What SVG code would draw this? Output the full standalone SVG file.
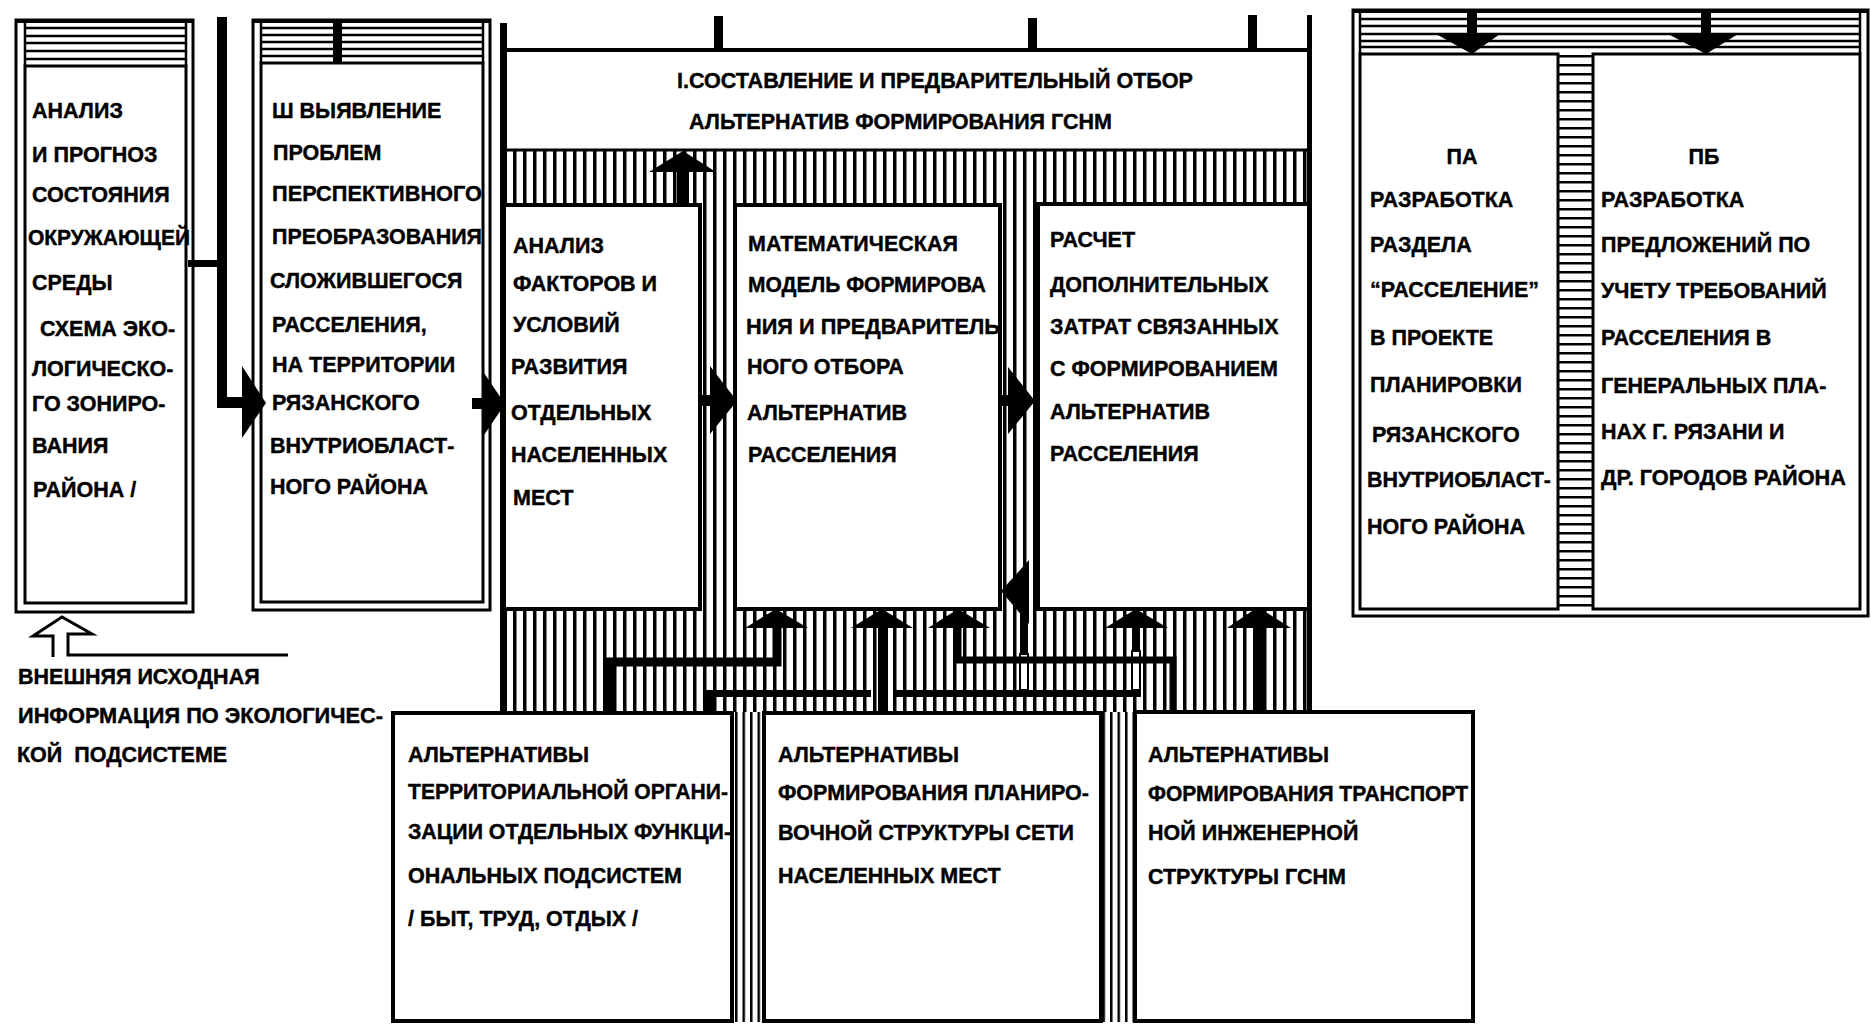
<svg xmlns="http://www.w3.org/2000/svg" width="1871" height="1024" viewBox="0 0 1871 1024">
<style>
.t{font-family:"Liberation Sans",Arial,sans-serif;font-weight:bold;font-size:21.5px;fill:#000;stroke:#000;stroke-width:0.4}
.b{fill:#fff;stroke:#000;stroke-width:4}
.l3{fill:none;stroke:#000;stroke-width:3}
.hl{stroke:#000;stroke-width:2.5}
.k{fill:#000}
.cn{fill:none;stroke:#000;stroke-linecap:square}
</style>
<defs>
<pattern id="vh" x="503" y="0" width="10" height="10" patternUnits="userSpaceOnUse"><rect x="0" y="0" width="3.5" height="10" fill="#000"/></pattern>
<pattern id="ch" x="0" y="0" width="7.5" height="10" patternUnits="userSpaceOnUse"><rect x="0" y="0" width="2.5" height="10" fill="#000"/></pattern>
<pattern id="hz" x="0" y="55" width="10" height="9" patternUnits="userSpaceOnUse"><rect x="0" y="0" width="10" height="2.5" fill="#000"/></pattern>
</defs>
<rect width="1871" height="1024" fill="#fff"/>

<!-- hatched areas -->
<g id="hatch">
<rect x="503" y="150" width="807" height="562" fill="url(#vh)"/>
<rect x="734" y="712" width="29" height="310" fill="url(#ch)"/>
<rect x="1102" y="712" width="32" height="310" fill="url(#ch)"/>
</g>

<!-- Box 1 -->
<g id="box1">
<rect x="16" y="20" width="177" height="592" fill="#fff" class="l3"/>
<rect x="25" y="66" width="161" height="537" class="l3"/>
<line x1="25" y1="20" x2="25" y2="66" class="hl"/>
<line x1="186" y1="20" x2="186" y2="66" class="hl"/>
<line x1="16" y1="21" x2="193" y2="21" stroke="#000" stroke-width="4"/>
<line x1="25" y1="28" x2="186" y2="28" class="hl"/>
<line x1="25" y1="36" x2="186" y2="36" class="hl"/>
<line x1="25" y1="43" x2="186" y2="43" class="hl"/>
<line x1="25" y1="51" x2="186" y2="51" class="hl"/>
<line x1="25" y1="59" x2="186" y2="59" class="hl"/>
<text class="t" x="32" y="118">АНАЛИЗ</text>
<text class="t" x="32" y="162">И ПРОГНОЗ</text>
<text class="t" x="32" y="202">СОСТОЯНИЯ</text>
<text class="t" x="28" y="245" textLength="162" lengthAdjust="spacingAndGlyphs">ОКРУЖАЮЩЕЙ</text>
<text class="t" x="32" y="290">СРЕДЫ</text>
<text class="t" x="40" y="336">СХЕМА ЭКО-</text>
<text class="t" x="32" y="376">ЛОГИЧЕСКО-</text>
<text class="t" x="32" y="411">ГО ЗОНИРО-</text>
<text class="t" x="32" y="453">ВАНИЯ</text>
<text class="t" x="33" y="497">РАЙОНА /</text>
</g>

<!-- Box 2 -->
<g id="box2">
<rect x="253" y="20" width="237" height="590" fill="#fff" class="l3"/>
<rect x="261" y="63" width="222" height="539" class="l3"/>
<line x1="261" y1="20" x2="261" y2="63" class="hl"/>
<line x1="483" y1="20" x2="483" y2="63" class="hl"/>
<line x1="253" y1="21" x2="490" y2="21" stroke="#000" stroke-width="4"/>
<line x1="261" y1="28" x2="483" y2="28" class="hl"/>
<line x1="261" y1="35" x2="483" y2="35" class="hl"/>
<line x1="261" y1="42" x2="483" y2="42" class="hl"/>
<line x1="261" y1="49" x2="483" y2="49" class="hl"/>
<line x1="261" y1="56" x2="483" y2="56" class="hl"/>
<rect x="333" y="20" width="9" height="43" class="k"/>
<text class="t" x="272" y="118">Ш ВЫЯВЛЕНИЕ</text>
<text class="t" x="273" y="160">ПРОБЛЕМ</text>
<text class="t" x="272" y="201" textLength="210" lengthAdjust="spacingAndGlyphs">ПЕРСПЕКТИВНОГО</text>
<text class="t" x="272" y="244" textLength="210" lengthAdjust="spacingAndGlyphs">ПРЕОБРАЗОВАНИЯ</text>
<text class="t" x="270" y="288">СЛОЖИВШЕГОСЯ</text>
<text class="t" x="272" y="332">РАССЕЛЕНИЯ,</text>
<text class="t" x="272" y="372">НА ТЕРРИТОРИИ</text>
<text class="t" x="272" y="410">РЯЗАНСКОГО</text>
<text class="t" x="270" y="453">ВНУТРИОБЛАСТ-</text>
<text class="t" x="270" y="494">НОГО РАЙОНА</text>
</g>

<!-- Stage I frame -->
<g id="stage1">
<rect x="500" y="23" width="7" height="689" class="k"/>
<rect x="1307" y="15" width="5" height="695" class="k"/>
<rect x="503" y="48" width="807" height="4" class="k"/>
<rect x="714" y="16" width="9" height="34" class="k"/>
<rect x="1028" y="18" width="9" height="32" class="k"/>
<rect x="1248" y="15" width="9" height="35" class="k"/>
<rect x="507" y="52" width="800" height="97" fill="#fff"/>
<line x1="503" y1="150" x2="1310" y2="150" stroke="#000" stroke-width="3"/>
<text class="t" x="677" y="88" textLength="516" lengthAdjust="spacingAndGlyphs">I.СОСТАВЛЕНИЕ И ПРЕДВАРИТЕЛЬНЫЙ ОТБОР</text>
<text class="t" x="689" y="129" textLength="423" lengthAdjust="spacingAndGlyphs">АЛЬТЕРНАТИВ ФОРМИРОВАНИЯ ГСНМ</text>
</g>

<g id="boxA">
<rect x="504" y="205" width="196" height="404" class="b"/>
<text class="t" x="513" y="253">АНАЛИЗ</text>
<text class="t" x="513" y="291">ФАКТОРОВ И</text>
<text class="t" x="513" y="332">УСЛОВИЙ</text>
<text class="t" x="511" y="374">РАЗВИТИЯ</text>
<text class="t" x="511" y="420">ОТДЕЛЬНЫХ</text>
<text class="t" x="511" y="462">НАСЕЛЕННЫХ</text>
<text class="t" x="513" y="505">МЕСТ</text>
</g>

<g id="boxB">
<rect x="735" y="205" width="265" height="404" class="b"/>
<text class="t" x="748" y="251">МАТЕМАТИЧЕСКАЯ</text>
<text class="t" x="748" y="292" textLength="238" lengthAdjust="spacingAndGlyphs">МОДЕЛЬ ФОРМИРОВА</text>
<text class="t" x="746" y="334" textLength="254" lengthAdjust="spacingAndGlyphs">НИЯ И ПРЕДВАРИТЕЛЬ</text>
<text class="t" x="747" y="374">НОГО ОТБОРА</text>
<text class="t" x="747" y="420">АЛЬТЕРНАТИВ</text>
<text class="t" x="748" y="462">РАССЕЛЕНИЯ</text>
</g>

<g id="boxC">
<rect x="1038" y="204" width="271" height="405" class="b"/>
<text class="t" x="1050" y="247">РАСЧЕТ</text>
<text class="t" x="1050" y="292">ДОПОЛНИТЕЛЬНЫХ</text>
<text class="t" x="1050" y="334">ЗАТРАТ СВЯЗАННЫХ</text>
<text class="t" x="1050" y="376">С ФОРМИРОВАНИЕМ</text>
<text class="t" x="1050" y="419">АЛЬТЕРНАТИВ</text>
<text class="t" x="1050" y="461">РАССЕЛЕНИЯ</text>
</g>

<!-- Stage II group -->
<g id="stage2">
<rect x="1353" y="10" width="515" height="606" fill="#fff" class="l3"/>
<line x1="1353" y1="11" x2="1868" y2="11" stroke="#000" stroke-width="4"/>
<line x1="1360" y1="19" x2="1860" y2="19" class="hl"/>
<line x1="1360" y1="26" x2="1860" y2="26" class="hl"/>
<line x1="1360" y1="34" x2="1860" y2="34" class="hl"/>
<line x1="1360" y1="41" x2="1860" y2="41" class="hl"/>
<line x1="1360" y1="47" x2="1860" y2="47" class="hl"/>
<line x1="1360" y1="10" x2="1360" y2="54" class="hl"/>
<line x1="1860" y1="10" x2="1860" y2="54" class="hl"/>
<rect x="1558" y="54" width="35" height="555" fill="url(#hz)"/>
</g>

<g id="boxIIA">
<rect x="1360" y="54" width="198" height="555" fill="#fff" class="l3"/>
<text class="t" x="1462" y="164" text-anchor="middle">ПА</text>
<text class="t" x="1370" y="207">РАЗРАБОТКА</text>
<text class="t" x="1370" y="252">РАЗДЕЛА</text>
<text class="t" x="1370" y="297">“РАССЕЛЕНИЕ”</text>
<text class="t" x="1370" y="345">В ПРОЕКТЕ</text>
<text class="t" x="1370" y="392">ПЛАНИРОВКИ</text>
<text class="t" x="1372" y="442">РЯЗАНСКОГО</text>
<text class="t" x="1367" y="487" textLength="184" lengthAdjust="spacingAndGlyphs">ВНУТРИОБЛАСТ-</text>
<text class="t" x="1367" y="534">НОГО РАЙОНА</text>
</g>

<g id="boxIIB">
<rect x="1593" y="54" width="267" height="555" fill="#fff" class="l3"/>
<text class="t" x="1704" y="164" text-anchor="middle">ПБ</text>
<text class="t" x="1601" y="207">РАЗРАБОТКА</text>
<text class="t" x="1601" y="252">ПРЕДЛОЖЕНИЙ ПО</text>
<text class="t" x="1601" y="298">УЧЕТУ ТРЕБОВАНИЙ</text>
<text class="t" x="1601" y="345">РАССЕЛЕНИЯ В</text>
<text class="t" x="1601" y="393">ГЕНЕРАЛЬНЫХ ПЛА-</text>
<text class="t" x="1601" y="439">НАХ Г. РЯЗАНИ И</text>
<text class="t" x="1601" y="485" textLength="245" lengthAdjust="spacingAndGlyphs">ДР. ГОРОДОВ РАЙОНА</text>
</g>

<g id="boxD">
<rect x="393" y="713" width="339" height="308" class="b" stroke-width="5"/>
<text class="t" x="408" y="762">АЛЬТЕРНАТИВЫ</text>
<text class="t" x="408" y="799" textLength="320" lengthAdjust="spacingAndGlyphs">ТЕРРИТОРИАЛЬНОЙ ОРГАНИ-</text>
<text class="t" x="408" y="839" textLength="323" lengthAdjust="spacingAndGlyphs">ЗАЦИИ ОТДЕЛЬНЫХ ФУНКЦИ-</text>
<text class="t" x="408" y="883">ОНАЛЬНЫХ ПОДСИСТЕМ</text>
<text class="t" x="408" y="926">/ БЫТ, ТРУД, ОТДЫХ /</text>
</g>

<g id="boxE">
<rect x="764" y="713" width="337" height="308" class="b" stroke-width="5"/>
<text class="t" x="778" y="762">АЛЬТЕРНАТИВЫ</text>
<text class="t" x="778" y="800" textLength="311" lengthAdjust="spacingAndGlyphs">ФОРМИРОВАНИЯ ПЛАНИРО-</text>
<text class="t" x="778" y="840">ВОЧНОЙ СТРУКТУРЫ СЕТИ</text>
<text class="t" x="778" y="883">НАСЕЛЕННЫХ МЕСТ</text>
</g>

<g id="boxF">
<rect x="1135" y="712" width="338" height="309" class="b" stroke-width="5"/>
<text class="t" x="1148" y="762">АЛЬТЕРНАТИВЫ</text>
<text class="t" x="1148" y="801" textLength="320" lengthAdjust="spacingAndGlyphs">ФОРМИРОВАНИЯ ТРАНСПОРТ</text>
<text class="t" x="1148" y="840">НОЙ ИНЖЕНЕРНОЙ</text>
<text class="t" x="1148" y="884">СТРУКТУРЫ ГСНМ</text>
</g>

<g id="external">
<path d="M53,657 V636 H33 L62,617 L92,634 H68 V655 H288" fill="none" stroke="#000" stroke-width="3"/>
<text class="t" x="18" y="684">ВНЕШНЯЯ ИСХОДНАЯ</text>
<text class="t" x="18" y="723" textLength="365" lengthAdjust="spacingAndGlyphs">ИНФОРМАЦИЯ ПО ЭКОЛОГИЧЕС-</text>
<text class="t" x="17" y="762">КОЙ&#160; ПОДСИСТЕМЕ</text>
</g>

<!-- connectors -->
<g id="connectors">
<rect x="188" y="260" width="36" height="7" class="k"/>
<rect x="217" y="17" width="10" height="391" class="k"/>
<rect x="217" y="397" width="28" height="11" class="k"/>
<polygon points="242,366 266,403 242,438" class="k"/>

<rect x="472" y="398" width="14" height="11" class="k"/>
<polygon points="482,370 505,404 482,438" class="k"/>

<rect x="698" y="395" width="14" height="11" class="k"/>
<polygon points="710,366 737,401 710,434" class="k"/>

<rect x="998" y="395" width="14" height="11" class="k"/>
<polygon points="1008,367 1035,401 1008,434" class="k"/>

<rect x="677" y="168" width="12" height="38" class="k"/>
<polygon points="649,172 683,151 716,172" class="k"/>

<rect x="1467" y="10" width="10" height="25" class="k"/>
<polygon points="1436,34 1500,34 1472,54" class="k"/>
<rect x="1701" y="10" width="10" height="25" class="k"/>
<polygon points="1668,34 1738,34 1706,54" class="k"/>

<path d="M610,710 V662 H777 V630" class="cn" stroke-width="9"/>
<polygon points="745,628 776,609 808,628" class="k"/>

<rect x="878" y="626" width="10" height="87" class="k"/>
<polygon points="851,628 882,609 913,628" class="k"/>

<rect x="706" y="690" width="8" height="23" class="k"/>
<rect x="706" y="690" width="165" height="7" class="k"/>
<rect x="896" y="690" width="245" height="7" class="k"/>
<rect x="1020" y="654" width="8" height="36" fill="#fff" stroke="#000" stroke-width="2"/>
<rect x="1020" y="588" width="8" height="66" class="k"/>
<polygon points="1001,591 1029,560 1029,624" class="k"/>
<rect x="1132" y="651" width="8" height="39" fill="#fff" stroke="#000" stroke-width="2"/>
<rect x="1132" y="626" width="8" height="25" class="k"/>
<polygon points="1105,628 1136,609 1168,628" class="k"/>

<path d="M1173,710 V660 H958 V630" class="cn" stroke-width="7"/>
<polygon points="928,628 958,609 990,628" class="k"/>

<rect x="1253" y="626" width="12" height="86" class="k"/>
<polygon points="1227,628 1258,607 1291,628" class="k"/>
</g>
</svg>
